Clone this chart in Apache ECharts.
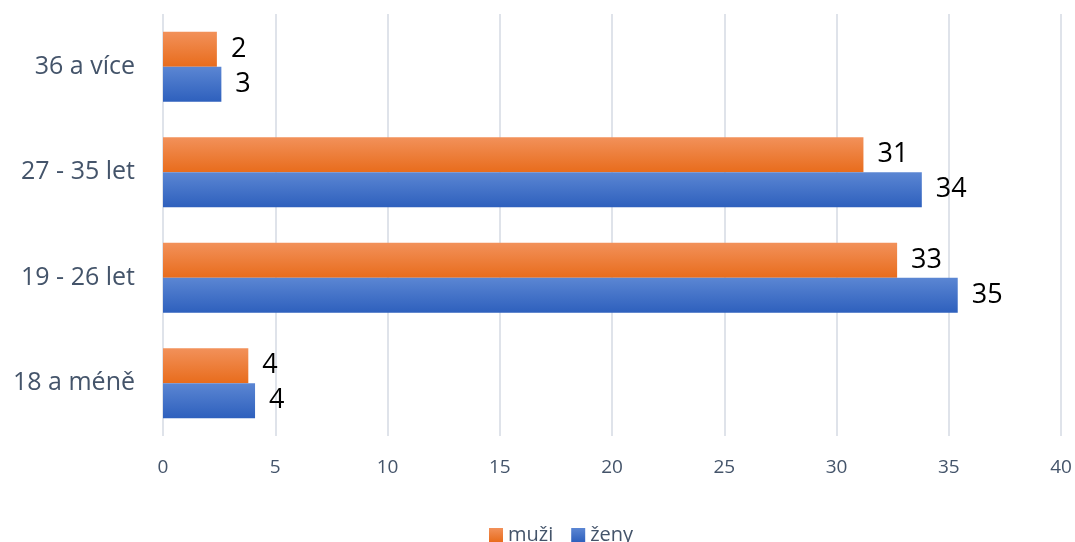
<!DOCTYPE html>
<html>
<head>
<meta charset="utf-8">
<script src="https://cdn.jsdelivr.net/npm/echarts@6/dist/echarts.min.js"></script>
<style>
  html, body { margin: 0; padding: 0; background: #fff; }
  #chart { width: 1075px; height: 542px; }
</style>
</head>
<body>
<div id="chart"></div>
<script>
// Age groups, bottom to top on the category axis
const categories = ['18 a méně', '19 - 26 let', '27 - 35 let', '36 a více'];
const muzi = [3.8, 32.7, 31.2, 2.4];
const zeny = [4.1, 35.4, 33.8, 2.6];
const valueTicks = [0, 5, 10, 15, 20, 25, 30, 35, 40];

const FONT = '"Open Sans", "Noto Sans", sans-serif';

function grad(top, bottom) {
  return new echarts.graphic.LinearGradient(0, 0, 0, 1, [
    { offset: 0, color: top },
    { offset: 1, color: bottom }
  ]);
}

const labelStyle = {
  show: true,
  position: 'right',
  distance: 14,
  fontFamily: FONT,
  fontSize: 27,
  color: '#000',
  formatter: p => Math.round(p.value)
};

const chart = echarts.init(document.getElementById('chart'));
chart.setOption({
  animation: false,
  grid: { left: 163, right: 14, top: 14, bottom: 106, containLabel: false },
  legend: {
    data: ['muži', 'ženy'],
    bottom: -8,
    left: 484,
    itemWidth: 14,
    itemHeight: 14,
    itemGap: 18,
    icon: 'rect',
    textStyle: { fontFamily: FONT, fontSize: 20, color: '#44546a' }
  },
  xAxis: {
    type: 'value',
    min: valueTicks[0],
    max: valueTicks[valueTicks.length - 1],
    interval: valueTicks[1] - valueTicks[0],
    axisLine: { show: false },
    axisTick: { show: false },
    splitLine: { show: true, lineStyle: { color: '#dfe3ea', width: 2 } },
    axisLabel: { margin: 22, fontFamily: FONT, fontSize: 19, color: '#44546a' }
  },
  yAxis: {
    type: 'category',
    data: categories,
    axisLine: { show: false },
    axisTick: { show: false },
    axisLabel: { margin: 28, fontFamily: FONT, fontSize: 25, color: '#44546a' }
  },
  series: [
    {
      name: 'muži',
      type: 'bar',
      data: muzi,
      barWidth: 35,
      barGap: '0%',
      itemStyle: { color: grad('#f2915a', '#e86c1c') },
      label: labelStyle
    },
    {
      name: 'ženy',
      type: 'bar',
      data: zeny,
      barWidth: 35,
      barGap: '0%',
      itemStyle: { color: grad('#5b86d3', '#2e60bd') },
      label: labelStyle
    }
  ]
});
</script>
</body>
</html>
